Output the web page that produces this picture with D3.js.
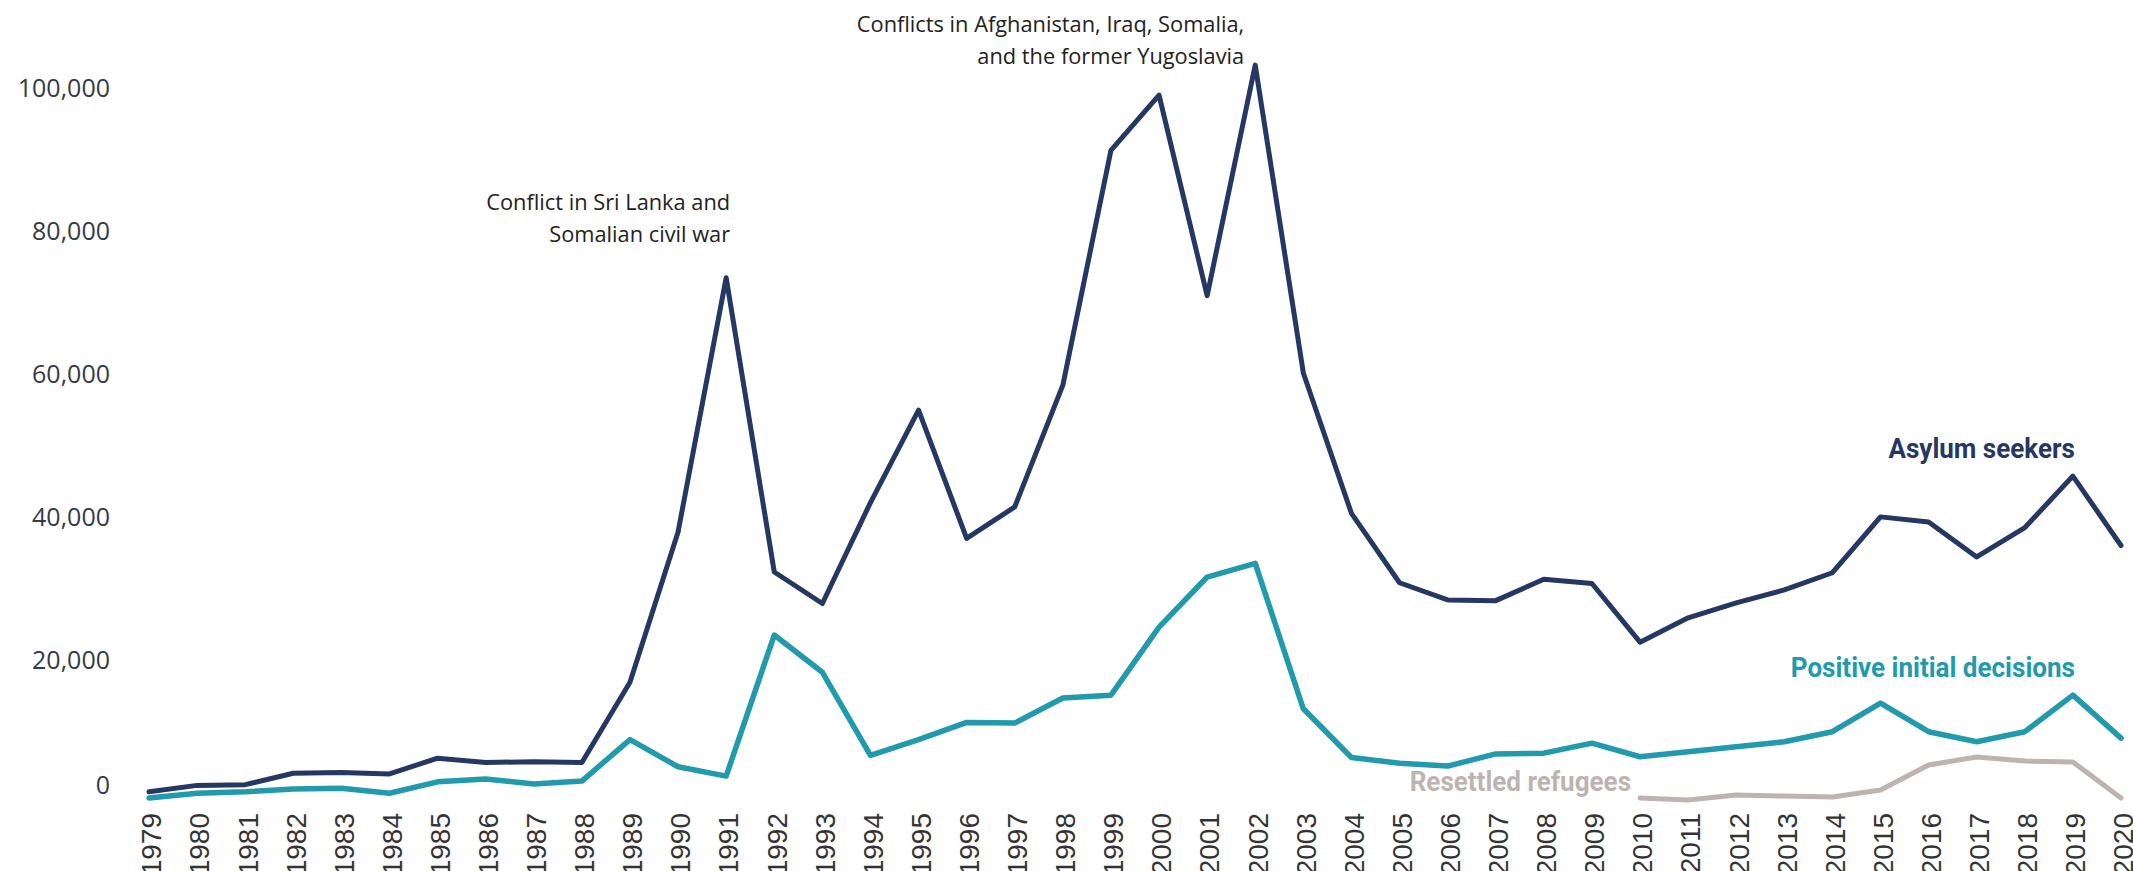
<!DOCTYPE html>
<html>
<head>
<meta charset="utf-8">
<script src="https://cdn.jsdelivr.net/npm/d3@7"></script>
<style>
  body { margin: 0; background: #fff; }
  svg { display: block; }
</style>
</head>
<body>
<script>
// chart data
const years = [1979, 1980, 1981, 1982, 1983, 1984, 1985, 1986, 1987, 1988,
  1989, 1990, 1991, 1992, 1993, 1994, 1995, 1996, 1997, 1998,
  1999, 2000, 2001, 2002, 2003, 2004, 2005, 2006, 2007, 2008,
  2009, 2010, 2011, 2012, 2013, 2014, 2015, 2016, 2017, 2018,
  2019, 2020];

const asylumSeekers = [1700, 2600, 2700, 4300, 4400, 4200, 6400, 5800, 5900, 5800,
  17000, 38000, 73500, 32400, 28000, 42100, 55000, 37100, 41500, 58500,
  91300, 99000, 71000, 103200, 60200, 40600, 30900, 28500, 28400, 31400,
  30800, 22600, 26000, 28100, 29900, 32300, 40100, 39400, 34500, 38600,
  45800, 36100];

const positiveDecisions = [850, 1500, 1700, 2100, 2200, 1500, 3100, 3500, 2800, 3200,
  9000, 5200, 3900, 23600, 18400, 6800, 9000, 11400, 11300, 14800,
  15200, 24700, 31700, 33600, 13300, 6500, 5700, 5300, 7000, 7100,
  8500, 6600, 7300, 8000, 8700, 10100, 14100, 10100, 8700, 10100,
  15200, 9200];

const resettledYears = [2010, 2011, 2012, 2013, 2014, 2015, 2016, 2017, 2018, 2019, 2020];
const resettledRefugees = [840, 560, 1260, 1100, 980, 1960, 5450, 6560, 6000, 5870, 840];

const yTicks = [0, 20000, 40000, 60000, 80000, 100000];

const annotations = [
  { year: 1991, lines: ["Conflict in Sri Lanka and", "Somalian civil war"] },
  { year: 2002, lines: ["Conflicts in Afghanistan, Iraq, Somalia,", "and the former Yugoslavia"] }
];

// dimensions
const width = 2133;
const height = 871;
const plot = { left: 149, right: 2121, top: 88, bottom: 804 };

const svg = d3.select("body")
  .append("svg")
  .attr("width", width)
  .attr("height", height);

// scales
const x = d3.scalePoint()
  .domain(years)
  .range([plot.left, plot.right]);

const y = d3.scaleLinear()
  .domain([0, 100000])
  .range([plot.bottom, plot.top]);

// y axis, no line, no ticks
const yAxis = svg.append("g")
  .attr("transform", `translate(118,0)`)
  .call(d3.axisLeft(y).tickValues(yTicks).tickSize(0).tickPadding(8).tickFormat(d3.format(",")));
yAxis.select(".domain").remove();
yAxis.selectAll("text")
  .attr("font-family", "'Open Sans', sans-serif")
  .attr("font-size", 25)
  .attr("fill", "#343a48");
// the zero label sits a bit above its line in the original
yAxis.selectAll(".tick").filter(d => d === 0).select("text").attr("dy", "-0.42em");

// x axis with rotated year labels (cut by the bottom edge, as in the original)
const xAxis = svg.append("g")
  .attr("transform", `translate(0,${plot.bottom})`)
  .call(d3.axisBottom(x).tickSize(0));
xAxis.select(".domain").remove();
xAxis.selectAll("text")
  .attr("transform", "rotate(-90)")
  .attr("text-anchor", "end")
  .attr("x", -9)
  .attr("y", 2)
  .attr("dy", "0.35em")
  .attr("font-family", "'Liberation Sans', Arial, sans-serif")
  .attr("font-size", 28)
  .attr("fill", "#333");

// lines
const line = d3.line()
  .x(d => x(d[0]))
  .y(d => y(d[1]));

const series = [
  { name: "asylum", xs: years, values: asylumSeekers, color: "#253864", width: 5 },
  { name: "decisions", xs: years, values: positiveDecisions, color: "#219aae", width: 5.5 },
  { name: "resettled", xs: resettledYears, values: resettledRefugees, color: "#bdb4b1", width: 5 }
];

series.forEach(s => {
  svg.append("path")
    .datum(s.xs.map((yr, i) => [yr, s.values[i]]))
    .attr("fill", "none")
    .attr("stroke", s.color)
    .attr("stroke-width", s.width)
    .attr("stroke-linejoin", "round")
    .attr("stroke-linecap", "round")
    .attr("d", line);
});

// series labels, condensed bold (squeezed horizontally)
const seriesLabels = [
  { text: "Asylum seekers", color: "#253864", x: x(2019) + 2, y: y(48300), anchor: "end" },
  { text: "Positive initial decisions", color: "#219aae", x: x(2019) + 2, y: y(17700), anchor: "end" },
  { text: "Resettled refugees", color: "#bdb4b1", x: x(2010) - 9, y: y(1800), anchor: "end" }
];
svg.selectAll(".series-label")
  .data(seriesLabels)
  .join("text")
  .attr("class", "series-label")
  .attr("transform", d => `translate(${d.x},${d.y}) scale(0.93,1)`)
  .attr("text-anchor", d => d.anchor)
  .attr("font-family", "Roboto, sans-serif")
  .attr("font-weight", "bold")
  .attr("font-size", 28)
  .attr("fill", d => d.color)
  .text(d => d.text);

// event annotations, right aligned just left of the peak
const annoTop = { 1991: 210, 2002: 32 };
annotations.forEach(a => {
  const t = svg.append("text")
    .attr("text-anchor", "end")
    .attr("font-family", "'Open Sans', sans-serif")
    .attr("font-size", 21.8)
    .attr("fill", "#222");
  a.lines.forEach((ln, i) => {
    t.append("tspan")
      .attr("x", x(a.year) + 4 - (a.year === 2002 ? 15 : 0))
      .attr("y", annoTop[a.year] + i * 32)
      .text(ln);
  });
});
</script>
</body>
</html>
